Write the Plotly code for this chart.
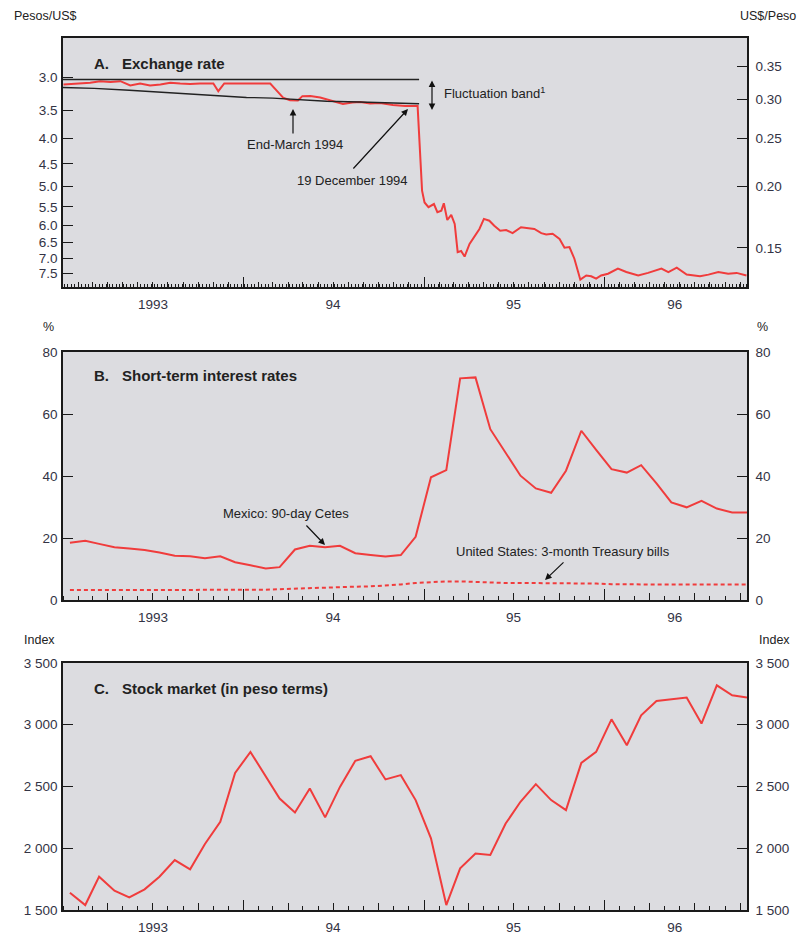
import plotly.graph_objects as go
import pandas as pd
import math

W, H = 799, 935
RED = "#f03c3c"
BG = "#dcdce0"
FONT = "Liberation Sans, Arial, sans-serif"
TICKC = "#333344"

# ---------------- Panel A: exchange rate (pesos per US$) ----------------
fx_dates = [
    "1993-01-02", "1993-02-05", "1993-02-25", "1993-03-17", "1993-04-07", "1993-04-27",
    "1993-05-17", "1993-06-06", "1993-06-26", "1993-07-17", "1993-08-06", "1993-08-26",
    "1993-09-15", "1993-10-05", "1993-11-01", "1993-11-11", "1993-11-23", "1993-12-25",
    "1994-02-24", "1994-03-10", "1994-03-22", "1994-04-05", "1994-04-21", "1994-04-30",
    "1994-05-16", "1994-06-05", "1994-06-25", "1994-07-21", "1994-08-09", "1994-08-25",
    "1994-09-14", "1994-10-04", "1994-10-30", "1994-11-24", "1994-12-19", "1994-12-22",
    "1994-12-28", "1995-01-02", "1995-01-10", "1995-01-21", "1995-01-28", "1995-02-05",
    "1995-02-10", "1995-02-17", "1995-02-25", "1995-03-04", "1995-03-10", "1995-03-17",
    "1995-03-24", "1995-04-03", "1995-04-13", "1995-04-23", "1995-05-02", "1995-05-13",
    "1995-05-23", "1995-06-04", "1995-06-16", "1995-06-29", "1995-07-16", "1995-07-30",
    "1995-08-12", "1995-08-26", "1995-09-05", "1995-09-18", "1995-10-02", "1995-10-12",
    "1995-10-22", "1995-11-01", "1995-11-13", "1995-11-25", "1995-12-05", "1995-12-15",
    "1995-12-25", "1996-01-08", "1996-01-28", "1996-02-14", "1996-03-09", "1996-03-29",
    "1996-04-25", "1996-05-09", "1996-05-26", "1996-06-15", "1996-07-12", "1996-07-29",
    "1996-08-18", "1996-09-07", "1996-09-24", "1996-10-14",
]
fx_pesos = [
    3.107, 3.092, 3.082, 3.059, 3.071, 3.059,
    3.121, 3.092, 3.121, 3.107, 3.082, 3.092,
    3.099, 3.092, 3.092, 3.205, 3.092, 3.092,
    3.092, 3.205, 3.305, 3.342, 3.347, 3.280,
    3.277, 3.300, 3.347, 3.401, 3.378, 3.370,
    3.394, 3.386, 3.417, 3.433, 3.436, 3.92,
    5.10, 5.39, 5.51, 5.43, 5.64, 5.60,
    5.41, 5.85, 5.71, 5.96, 6.80, 6.76,
    6.94, 6.54, 6.32, 6.10, 5.82, 5.87,
    6.01, 6.15, 6.13, 6.22, 6.05, 6.08,
    6.10, 6.22, 6.26, 6.24, 6.39, 6.66,
    6.64, 7.01, 7.73, 7.58, 7.61, 7.69,
    7.58, 7.52, 7.34, 7.46, 7.58, 7.49,
    7.34, 7.46, 7.31, 7.55, 7.61, 7.55,
    7.46, 7.52, 7.49, 7.58,
]
band_dates = ["1993-01-01", "1993-03-05", "1993-05-15", "1993-07-20", "1993-09-10",
              "1993-10-31", "1994-01-07", "1994-03-01", "1994-04-25", "1994-06-18",
              "1994-08-23", "1994-10-28", "1994-12-22"]
band_ceiling = [3.150, 3.163, 3.19, 3.22, 3.245, 3.27, 3.30, 3.31, 3.33, 3.36, 3.37, 3.39, 3.40]
floor_dates = ["1993-01-01", "1994-12-22"]
floor_level = [3.035, 3.035]

pesos_ticks = [3.0, 3.5, 4.0, 4.5, 5.0, 5.5, 6.0, 6.5, 7.0, 7.5]
usd_ticks = [0.35, 0.30, 0.25, 0.20, 0.15]

# ---------------- Panel B / C: monthly data ----------------
months = [d + pd.Timedelta(days=14) for d in pd.date_range("1993-01-01", periods=46, freq="MS")]
cetes = [18.5, 19.1, 18.1, 17.0, 16.6, 16.1, 15.3, 14.3, 14.1, 13.5, 14.1, 12.2,
         11.2, 10.2, 10.6, 16.3, 17.5, 17.0, 17.5, 15.1, 14.5, 14.0, 14.5, 20.4,
         39.6, 41.9, 71.5, 71.8, 55.1, 47.3, 40.1, 36.0, 34.6, 41.7, 54.6, 48.4,
         42.2, 41.1, 43.5, 37.6, 31.5, 29.9, 32.0, 29.5, 28.2, 28.2]
tbills = [3.2, 3.2, 3.2, 3.2, 3.2, 3.2, 3.2, 3.2, 3.2, 3.2, 3.2, 3.2,
          3.2, 3.3, 3.5, 3.7, 3.8, 3.9, 4.1, 4.3, 4.4, 4.6, 5.0, 5.5,
          5.8, 6.0, 6.0, 5.8, 5.6, 5.5, 5.5, 5.5, 5.5, 5.5, 5.5, 5.3,
          5.1, 5.0, 5.0, 5.0, 5.0, 5.0, 5.0, 5.0, 5.0, 5.0]
stocks = [1640, 1540, 1770, 1656, 1602, 1667, 1770, 1904, 1829, 2034, 2214, 2610,
          2780, 2584, 2403, 2290, 2484, 2250, 2497, 2708, 2745, 2557, 2592, 2390,
          2080, 1540, 1837, 1958, 1945, 2200, 2376, 2519, 2390, 2309, 2691, 2780,
          3044, 2834, 3077, 3193, 3206, 3220, 3010, 3319, 3238, 3220]

rate_ticks = [0, 20, 40, 60, 80]
index_ticks = [1500, 2000, 2500, 3000, 3500]
index_text = ["1 500", "2 000", "2 500", "3 000", "3 500"]

year_labels = ["1993", "94", "95", "96"]
year_label_pos = ["1993-07-02", "1994-07-01", "1995-07-01", "1996-05-22"]
year_ticks = ["1994-01-01", "1995-01-01", "1996-01-01"]
XRANGE = ["1993-01-01", "1996-10-15"]

# ---------------- geometry ----------------
XD = [63 / W, 747 / W]
def yd(top, bot):
    return [1 - bot / H, 1 - top / H]
A_DOM, B_DOM, C_DOM = yd(38, 287), yd(352, 600), yd(663, 910)

fig = go.Figure()

# Panel A traces
fig.add_trace(go.Scatter(x=fx_dates, y=fx_pesos, mode="lines", line=dict(color=RED, width=2),
                         xaxis="x", yaxis="y", hoverinfo="skip"))
fig.add_trace(go.Scatter(x=band_dates, y=band_ceiling, mode="lines", line=dict(color="#222", width=1.4),
                         xaxis="x", yaxis="y", hoverinfo="skip"))
fig.add_trace(go.Scatter(x=floor_dates, y=floor_level, mode="lines", line=dict(color="#222", width=1.4),
                         xaxis="x", yaxis="y", hoverinfo="skip"))
fig.add_trace(go.Scatter(x=fx_dates, y=[1 / p for p in fx_pesos], mode="lines", opacity=0,
                         line=dict(width=0), xaxis="x4", yaxis="y2", hoverinfo="skip"))

# Panel B traces
fig.add_trace(go.Scatter(x=months, y=tbills, mode="lines", line=dict(color=RED, width=2, dash="4px,3px"),
                         xaxis="x2", yaxis="y3", hoverinfo="skip"))
fig.add_trace(go.Scatter(x=months, y=cetes, mode="lines", line=dict(color=RED, width=2),
                         xaxis="x2", yaxis="y3", hoverinfo="skip"))
fig.add_trace(go.Scatter(x=months, y=cetes, mode="lines", opacity=0, line=dict(width=0),
                         xaxis="x5", yaxis="y4", hoverinfo="skip"))

# Panel C traces
fig.add_trace(go.Scatter(x=months, y=stocks, mode="lines", line=dict(color=RED, width=2),
                         xaxis="x3", yaxis="y5", hoverinfo="skip"))
fig.add_trace(go.Scatter(x=months, y=stocks, mode="lines", opacity=0, line=dict(width=0),
                         xaxis="x6", yaxis="y6", hoverinfo="skip"))

tickfont = dict(family=FONT, size=13.5, color=TICKC)

def main_x(anchor, domain, minor_dtick, minor_len, year_len):
    return dict(type="date", range=XRANGE, domain=domain, anchor=anchor, automargin=False,
                showline=True, linecolor="#1a1a1a", linewidth=1.6, mirror=True,
                showgrid=False, zeroline=False,
                tickmode="array", tickvals=year_ticks, ticks="inside", ticklen=year_len,
                tickwidth=1.3, tickcolor="#1a1a1a", showticklabels=False,
                minor=dict(tickmode="linear", tick0="1993-01-01", dtick=minor_dtick,
                           ticks="inside", ticklen=minor_len, tickwidth=1, tickcolor="#1a1a1a",
                           showgrid=False))

def label_x(anchor, over, small_dtick, small_tick0, small_len):
    return dict(type="date", range=XRANGE, domain=XD, anchor=anchor, overlaying=over,
                automargin=False, showline=False, showgrid=False, zeroline=False,
                tickmode="array", tickvals=year_label_pos, ticktext=year_labels, ticks="",
                tickfont=tickfont, ticklabelstandoff=7,
                minor=dict(tickmode="linear", tick0=small_tick0, dtick=small_dtick,
                           ticks="inside", ticklen=small_len, tickwidth=1, tickcolor="#1a1a1a",
                           showgrid=False))

def y_axis(domain, anchor, side, rng, tvals, ttext, typ="linear", overlaying=None):
    d = dict(domain=domain, anchor=anchor, side=side, range=rng, type=typ, automargin=False,
             showline=True, linecolor="#1a1a1a", linewidth=1.6, mirror=True,
             showgrid=False, zeroline=False,
             tickmode="array", tickvals=tvals, ticktext=ttext, ticks="inside", ticklen=10,
             tickwidth=1.3, tickcolor="#1a1a1a", tickfont=tickfont,
             ticklabelstandoff=1 if side == "left" else 4)
    if overlaying:
        d["overlaying"] = overlaying
    return d

layout = dict(
    width=W, height=H, margin=dict(l=0, r=0, t=0, b=0, pad=0), autosize=False,
    paper_bgcolor="white", plot_bgcolor=BG, showlegend=False,
    font=dict(family=FONT, size=12, color="#222"),
    xaxis=main_x("y", XD, "M1", 5, 10),
    xaxis4=label_x("y", "x", 7 * 86400000, "1993-01-04", 3),
    xaxis2=main_x("y3", XD, "M3", 7, 11),
    xaxis5=label_x("y3", "x2", "M1", "1993-01-01", 4),
    xaxis3=main_x("y5", XD, "M3", 7, 10),
    xaxis6=label_x("y5", "x3", "M1", "1993-01-01", 4),
    yaxis=y_axis(A_DOM, "x", "left", [math.log10(8.0), math.log10(2.5)], pesos_ticks,
                 ["%.1f" % v for v in pesos_ticks], typ="log"),
    yaxis2=y_axis(A_DOM, "x", "right", [math.log10(0.125), math.log10(0.4)], usd_ticks,
                  ["%.2f" % v for v in usd_ticks], typ="log", overlaying="y"),
    yaxis3=y_axis(B_DOM, "x2", "left", [0, 80], rate_ticks, [str(v) for v in rate_ticks]),
    yaxis4=y_axis(B_DOM, "x2", "right", [0, 80], rate_ticks, [str(v) for v in rate_ticks],
                  overlaying="y3"),
    yaxis5=y_axis(C_DOM, "x3", "left", [1500, 3500], index_ticks, index_text),
    yaxis6=y_axis(C_DOM, "x3", "right", [1500, 3500], index_ticks, index_text, overlaying="y5"),
)
fig.update_layout(**layout)

def P(x, y):
    return x / W, 1 - y / H

ann = []
def text(x, y, s, anchor="left", size=12, bold=False, color="#222"):
    px, py = P(x, y)
    ann.append(dict(x=px, y=py, xref="paper", yref="paper", text=("<b>%s</b>" % s) if bold else s,
                    showarrow=False, xanchor=anchor, yanchor="middle",
                    font=dict(family=FONT, size=size, color=color)))

def arrow(hx, hy, tx, ty, both=False):
    px, py = P(hx, hy)
    d = dict(x=px, y=py, xref="paper", yref="paper", text="", showarrow=True,
             ax=tx - hx, ay=ty - hy, axref="pixel", ayref="pixel",
             arrowhead=2, arrowsize=1.1, arrowwidth=1.2, arrowcolor="#111")
    if both:
        d["arrowside"] = "end+start"
        d["startarrowhead"] = 2
        d["startarrowsize"] = 1.1
    ann.append(d)

# units
text(12, 16, "Pesos/US$", size=12.5)
text(798, 16, "US$/Peso", anchor="right", size=12.5)
text(48, 327, "%", anchor="center", size=12.5)
text(762, 327, "%", anchor="center", size=12.5)
text(22, 640, "Index", size=12.5)
text(757, 640, "Index", size=12.5)

# panel titles
for yy, letter, title in [(63, "A.", "Exchange rate"), (376, "B.", "Short-term interest rates"),
                          (688, "C.", "Stock market (in peso terms)")]:
    text(92, yy, letter, size=15, bold=True)
    text(120, yy, title, size=15, bold=True)

# panel A notes
text(442, 93, "Fluctuation band<sup>1</sup>", size=13)
arrow(432, 110, 432, 79, both=True)
text(295, 144, "End-March 1994", anchor="center", size=13)
arrow(293, 109, 293, 135)
text(295, 180, "19 December 1994", size=13)
arrow(408, 109, 352, 170)

# panel B notes
text(286, 513, "Mexico: 90-day Cetes", anchor="center", size=13)
arrow(325, 545, 305, 524)
text(563, 551, "United States: 3-month Treasury bills", anchor="center", size=13)
arrow(545, 580, 565, 561)

fig.update_layout(annotations=ann)
fig.write_html("out.html", config={"displayModeBar": False},
               post_script="document.body.style.margin='0';document.body.style.padding='0';"
                           "document.body.style.overflow='hidden';")
